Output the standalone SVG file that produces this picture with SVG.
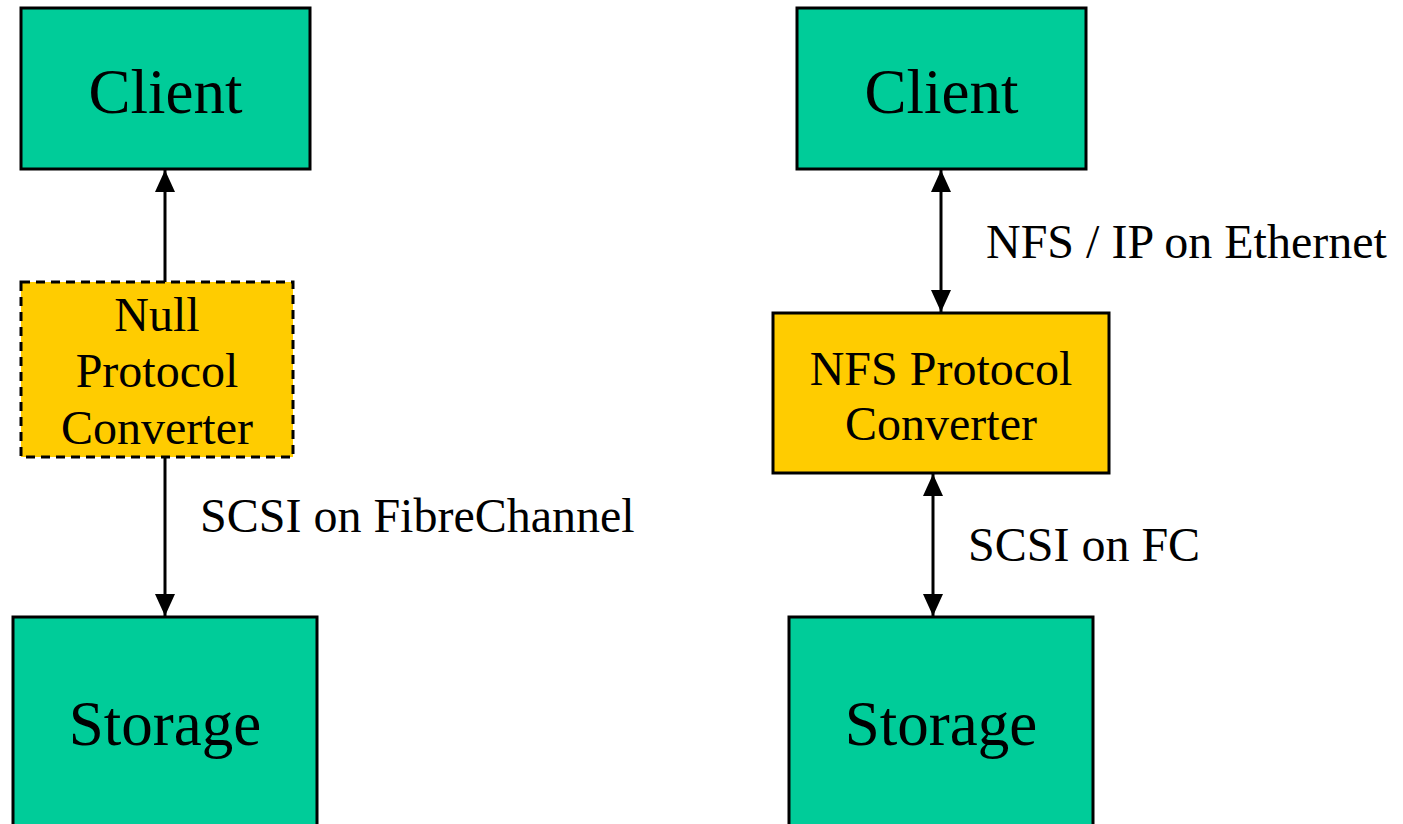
<svg xmlns="http://www.w3.org/2000/svg" width="1403" height="824" viewBox="0 0 1403 824">
<defs>
<marker id="ah" viewBox="0 0 22 20" refX="22" refY="10" markerWidth="22" markerHeight="20" markerUnits="userSpaceOnUse" orient="auto-start-reverse">
<path d="M0,0 L22,10 L0,20 Z" fill="#000"/>
</marker>
<style>
.green{fill:#00CC99;stroke:#000;stroke-width:3}
.yellow{fill:#FFCC00;stroke:#000;stroke-width:3}
.dash{stroke-dasharray:9,6}
.big{font-family:"Liberation Serif","Times New Roman",serif;font-size:63px;fill:#000;text-anchor:middle}
.mid{font-family:"Liberation Serif","Times New Roman",serif;font-size:48px;fill:#000;text-anchor:middle}
.lbl{font-family:"Liberation Serif","Times New Roman",serif;font-size:48px;fill:#000}
.conn{stroke:#000;stroke-width:3;fill:none}
</style>
</defs>
<rect width="1403" height="824" fill="#fff"/>
<g id="connectors">
<line class="conn" x1="165" y1="282" x2="165" y2="170" marker-end="url(#ah)"/>
<line class="conn" x1="165" y1="457" x2="165" y2="616" marker-end="url(#ah)"/>
<line class="conn" x1="941" y1="170" x2="941" y2="312" marker-start="url(#ah)" marker-end="url(#ah)"/>
<line class="conn" x1="933" y1="474" x2="933" y2="616" marker-start="url(#ah)" marker-end="url(#ah)"/>
<text class="lbl" x="200" y="532">SCSI on FibreChannel</text>
<text class="lbl" x="986" y="258">NFS / IP on Ethernet</text>
<text class="lbl" x="968" y="561">SCSI on FC</text>
</g>
<g id="client-left">
<rect class="green" x="21" y="8" width="289" height="161"/>
<text class="big" x="165.5" y="113">Client</text>
</g>
<g id="null-converter">
<rect class="yellow dash" x="21" y="282" width="272" height="175"/>
<text class="mid" x="157" y="331">Null</text>
<text class="mid" x="157" y="387">Protocol</text>
<text class="mid" x="157" y="444">Converter</text>
</g>
<g id="storage-left">
<rect class="green" x="13" y="617" width="304" height="220"/>
<text class="big" x="165" y="745">Storage</text>
</g>
<g id="client-right">
<rect class="green" x="797" y="8" width="289" height="161"/>
<text class="big" x="941.5" y="113">Client</text>
</g>
<g id="nfs-converter">
<rect class="yellow" x="773" y="313" width="336" height="160"/>
<text class="mid" x="941" y="385">NFS Protocol</text>
<text class="mid" x="941" y="440">Converter</text>
</g>
<g id="storage-right">
<rect class="green" x="789" y="617" width="304" height="220"/>
<text class="big" x="941" y="745">Storage</text>
</g>
</svg>
